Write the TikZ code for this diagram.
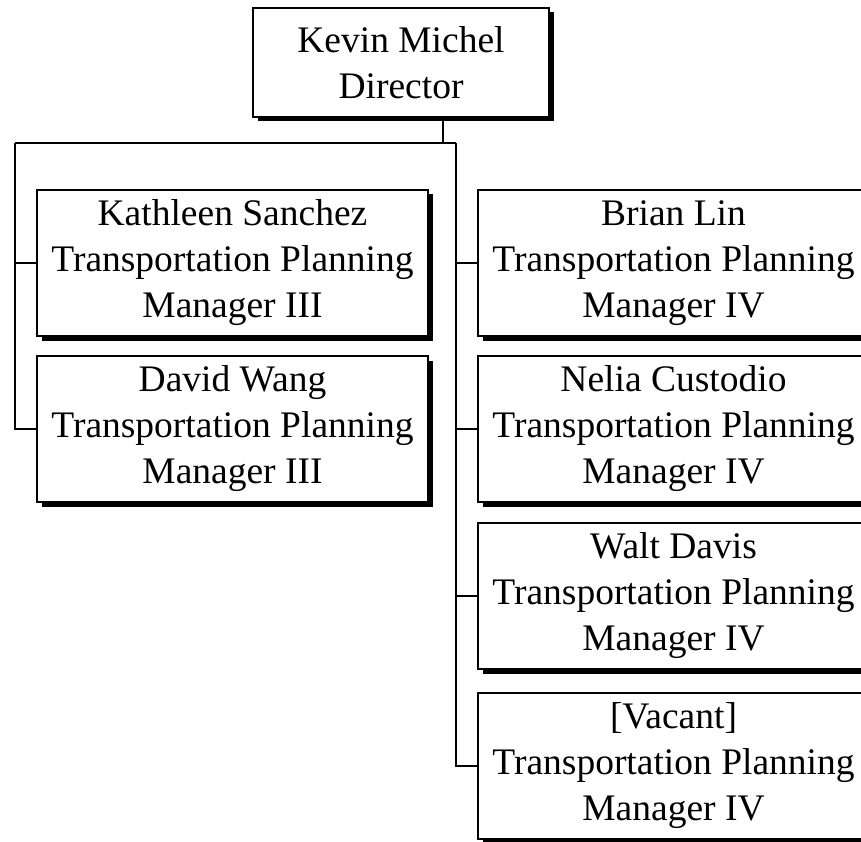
\documentclass[tikz,border=0pt]{standalone}
\usepackage{fontspec}
\setmainfont{Liberation Serif}
\usetikzlibrary{shadows}
\begin{document}
\begin{tikzpicture}[x=1pt,y=-1pt,
  box/.style={draw, line width=1.3pt, fill=white, minimum width=391pt, minimum height=146pt,
    inner sep=0pt, align=center, font=\fontsize{37.5}{46}\selectfont,
    drop shadow={shadow xshift=4.5pt,shadow yshift=-4.5pt,opacity=1,fill=black}},
  link/.style={line width=2.1pt}]
\clip (0,0) rectangle (861,842);
\fill[white] (0,0) rectangle (861,842);
% connector junction points
\coordinate (j) at (443,143);
\coordinate (lt) at (15,143);
\coordinate (rt) at (456,143);
% nodes
\node[box, minimum width=296pt, minimum height=109pt] (dir) at (401,62.5) {Kevin Michel\\Director};
\node[box] (kath) at (232.5,263) {Kathleen Sanchez\\Transportation Planning\\Manager III};
\node[box] (david) at (232.5,429) {David Wang\\Transportation Planning\\Manager III};
\node[box] (brian) at (673.5,263) {Brian Lin\\Transportation Planning\\Manager IV};
\node[box] (nelia) at (673.5,429) {Nelia Custodio\\Transportation Planning\\Manager IV};
\node[box] (walt) at (673.5,596) {Walt Davis\\Transportation Planning\\Manager IV};
\node[box] (vac) at (673.5,766) {[Vacant]\\Transportation Planning\\Manager IV};
% connectors
\draw[link] (dir.south -| j) -- (j);
\draw[link] (lt) -- (rt);
\draw[link] (lt) |- (david.west);
\draw[link] (lt |- kath.west) -- (kath.west);
\draw[link] (rt) |- (vac.west);
\draw[link] (rt |- brian.west) -- (brian.west);
\draw[link] (rt |- nelia.west) -- (nelia.west);
\draw[link] (rt |- walt.west) -- (walt.west);
\end{tikzpicture}
\end{document}
